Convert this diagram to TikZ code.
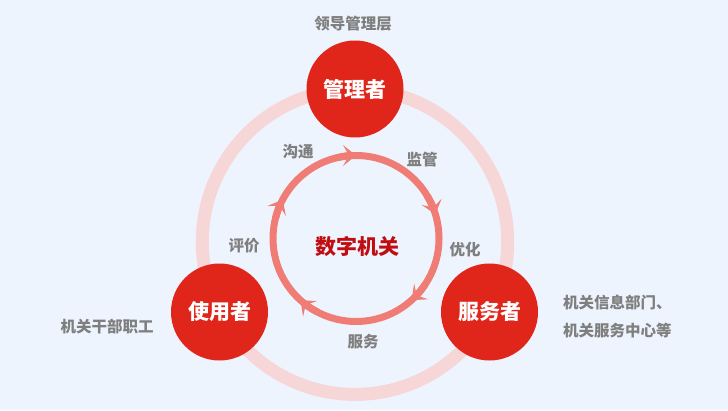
\documentclass[tikz,border=0pt]{standalone}
\usepackage{fontspec}
\setmainfont{Noto Sans CJK SC}
\usetikzlibrary{arrows.meta, positioning}

\definecolor{bgblue}{HTML}{EEF4FD}
\definecolor{rolered}{HTML}{E0251A}
\definecolor{ringpink}{HTML}{F7D6D8}
\definecolor{looppink}{HTML}{F07D75}
\definecolor{notegray}{HTML}{7F7F7F}
\definecolor{coredark}{HTML}{C00D12}

\begin{document}
\begin{tikzpicture}[x=1pt, y=1pt,
  role/.style={circle, fill=rolered, minimum size=97pt, inner sep=0pt, text=white,
    font=\fontsize{21}{24}\selectfont\bfseries},
  note/.style={text=notegray, inner sep=1pt, font=\fontsize{15.5}{28}\selectfont\bfseries},
  loop/.style={draw=looppink, line width=7pt},
  looptip/.style={looppink, line width=7pt, -{Stealth[length=13pt, width=21pt, inset=6pt]}}]
  % hintergrund
  \fill[bgblue] (0,0) rectangle (728,410);
  \useasboundingbox (0,0) rectangle (728,410);
  % aeusserer ring
  \draw[ringpink, line width=13pt] (355,168.3) circle (152.7);
  % innerer kreislauf
  \coordinate (hub) at (356,171.5);
  \draw[loop] (hub) circle (83);
  \foreach \a in {90,17,-48,-132,152}
    \draw[looptip] (hub) ++(\a+14:83) arc[start angle=\a+14, end angle=\a, radius=83];
  \node[text=coredark, font=\fontsize{21}{24}\selectfont\bfseries] (core) at (357,164) {数字机关};
  % rollen
  \node[role] (mgr) at (355,321) {管理者};
  \node[role] (user) at (219.5,98) {使用者};
  \node[role] (svc) at (489.5,98) {服务者};
  % beschriftungen
  \node[note] (mgrnote) at (353,386) {领导管理层};
  \node[note] (usernote) at (107,83) {机关干部职工};
  \node[note, anchor=west, align=left] (svcnote) at (562,93) {机关信息部门、\\机关服务中心等};
  \node[note] (talk) at (298,258) {沟通};
  \node[note] (watch) at (422,250) {监管};
  \node[note] (tune) at (465,160) {优化};
  \node[note] (serve) at (363,68) {服务};
  \node[note] (rate) at (244,164) {评价};
\end{tikzpicture}
\end{document}
